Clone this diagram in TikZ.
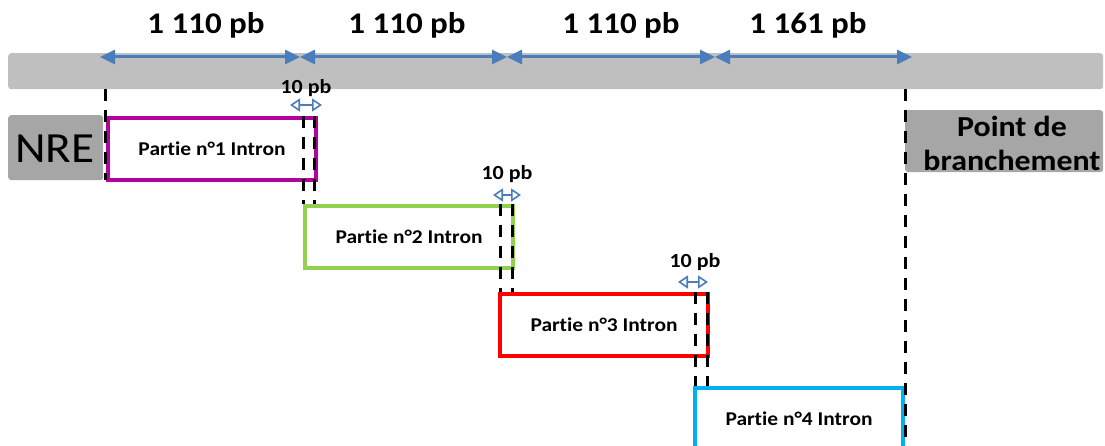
\documentclass[tikz,border=0pt]{standalone}
\usepackage{fontspec}
\setmainfont{Carlito}[FakeStretch=1.1, Ligatures={TeX,NoCommon}]
\usetikzlibrary{arrows.meta}
\definecolor{barg}{HTML}{BFBFBF}
\definecolor{boxg}{HTML}{A6A6A6}
\definecolor{arrb}{HTML}{4A7EBB}
\definecolor{pur}{HTML}{B4009E}
\definecolor{grn}{HTML}{92D050}
\definecolor{rd}{HTML}{FF0000}
\definecolor{cyn}{HTML}{00B0F0}
\begin{document}
\begin{tikzpicture}[x=1pt,y=-1pt,
  part/.style={draw, line width=4pt, fill=white, minimum width=208pt, minimum height=62pt,
    anchor=north west, inner sep=0pt, font=\bfseries\fontsize{19.5}{22}\selectfont},
  graybox/.style={fill=boxg, rounded corners=3pt, inner sep=0pt, anchor=north west},
  dsh/.style={black, line width=3pt, dash pattern=on 12pt off 9pt},
  bigarr/.style={arrb, line width=3pt, {Triangle[length=15pt,width=14pt]}-{Triangle[length=15pt,width=14pt]}},
  smarr/.style={arrb, line width=1.6pt, {Triangle[open,length=10pt,width=13pt]}-{Triangle[open,length=10pt,width=13pt]}},
  toplbl/.style={font=\bfseries\fontsize{30}{32}\selectfont, inner sep=0pt},
  smlbl/.style={font=\bfseries\fontsize{20}{22}\selectfont, inner sep=0pt}]
\useasboundingbox (0,0) rectangle (1105,446);
% grey bar
\node[fill=barg, rounded corners=3pt, minimum width=1095pt, minimum height=36pt, inner sep=0pt, anchor=north west] (bar) at (8,53) {};
% side boxes
\node[graybox, minimum width=95pt, minimum height=65pt] (nre) at (8,115) {};
\node[font=\fontsize{43}{46}\selectfont, inner sep=0pt] (nret) at (55,149) {NRE};
\node[graybox, minimum width=198pt, minimum height=62pt] (pdb) at (905,110) {};
\node[font=\bfseries\fontsize{29}{34}\selectfont, align=center, inner sep=0pt] (pdbt) at (1012,143) {Point de\\branchement};
% parts
\node[part, draw=pur] (p1) at (106,116) {Partie n°1 Intron};
\node[part, draw=grn] (p2) at (303,204) {Partie n°2 Intron};
\node[part, draw=rd]  (p3) at (498,292) {Partie n°3 Intron};
\node[part, draw=cyn] (p4) at (693,386) {Partie n°4 Intron};
% dashed guides
\draw[dsh] (105,89) -- (105,180);
\draw[dsh] (905,89) -- (905,450);
\draw[dsh] (303,116) -- (303,204);
\draw[dsh] (314,116) -- (314,204);
\draw[dsh] (500,204) -- (500,292);
\draw[dsh] (512,204) -- (512,292);
\draw[dsh] (695,292) -- (695,386);
\draw[dsh] (707,292) -- (707,386);
% top arrows
\coordinate (t0) at (100,57);
\coordinate (t1) at (300,57);
\coordinate (t2) at (507,57);
\coordinate (t3) at (715,57);
\coordinate (t4) at (912,57);
\draw[bigarr] (t0) -- (t1);
\draw[bigarr] (t1) -- (t2);
\draw[bigarr] (t2) -- (t3);
\draw[bigarr] (t3) -- (t4);
\node[toplbl] (l1) at (206,25) {1 110 pb};
\node[toplbl] (l2) at (407,25) {1 110 pb};
\node[toplbl] (l3) at (621,25) {1 110 pb};
\node[toplbl] (l4) at (808,25) {1 161 pb};
% small arrows
\coordinate (s1a) at (290,105); \coordinate (s1b) at (322,105);
\coordinate (s2a) at (493,195); \coordinate (s2b) at (521,195);
\coordinate (s3a) at (678,282); \coordinate (s3b) at (708,282);
\draw[smarr] (s1a) -- (s1b);
\draw[smarr] (s2a) -- (s2b);
\draw[smarr] (s3a) -- (s3b);
\node[smlbl] (m1) at (306,88) {10 pb};
\node[smlbl] (m2) at (507,174) {10 pb};
\node[smlbl] (m3) at (695,262) {10 pb};
\end{tikzpicture}
\end{document}
